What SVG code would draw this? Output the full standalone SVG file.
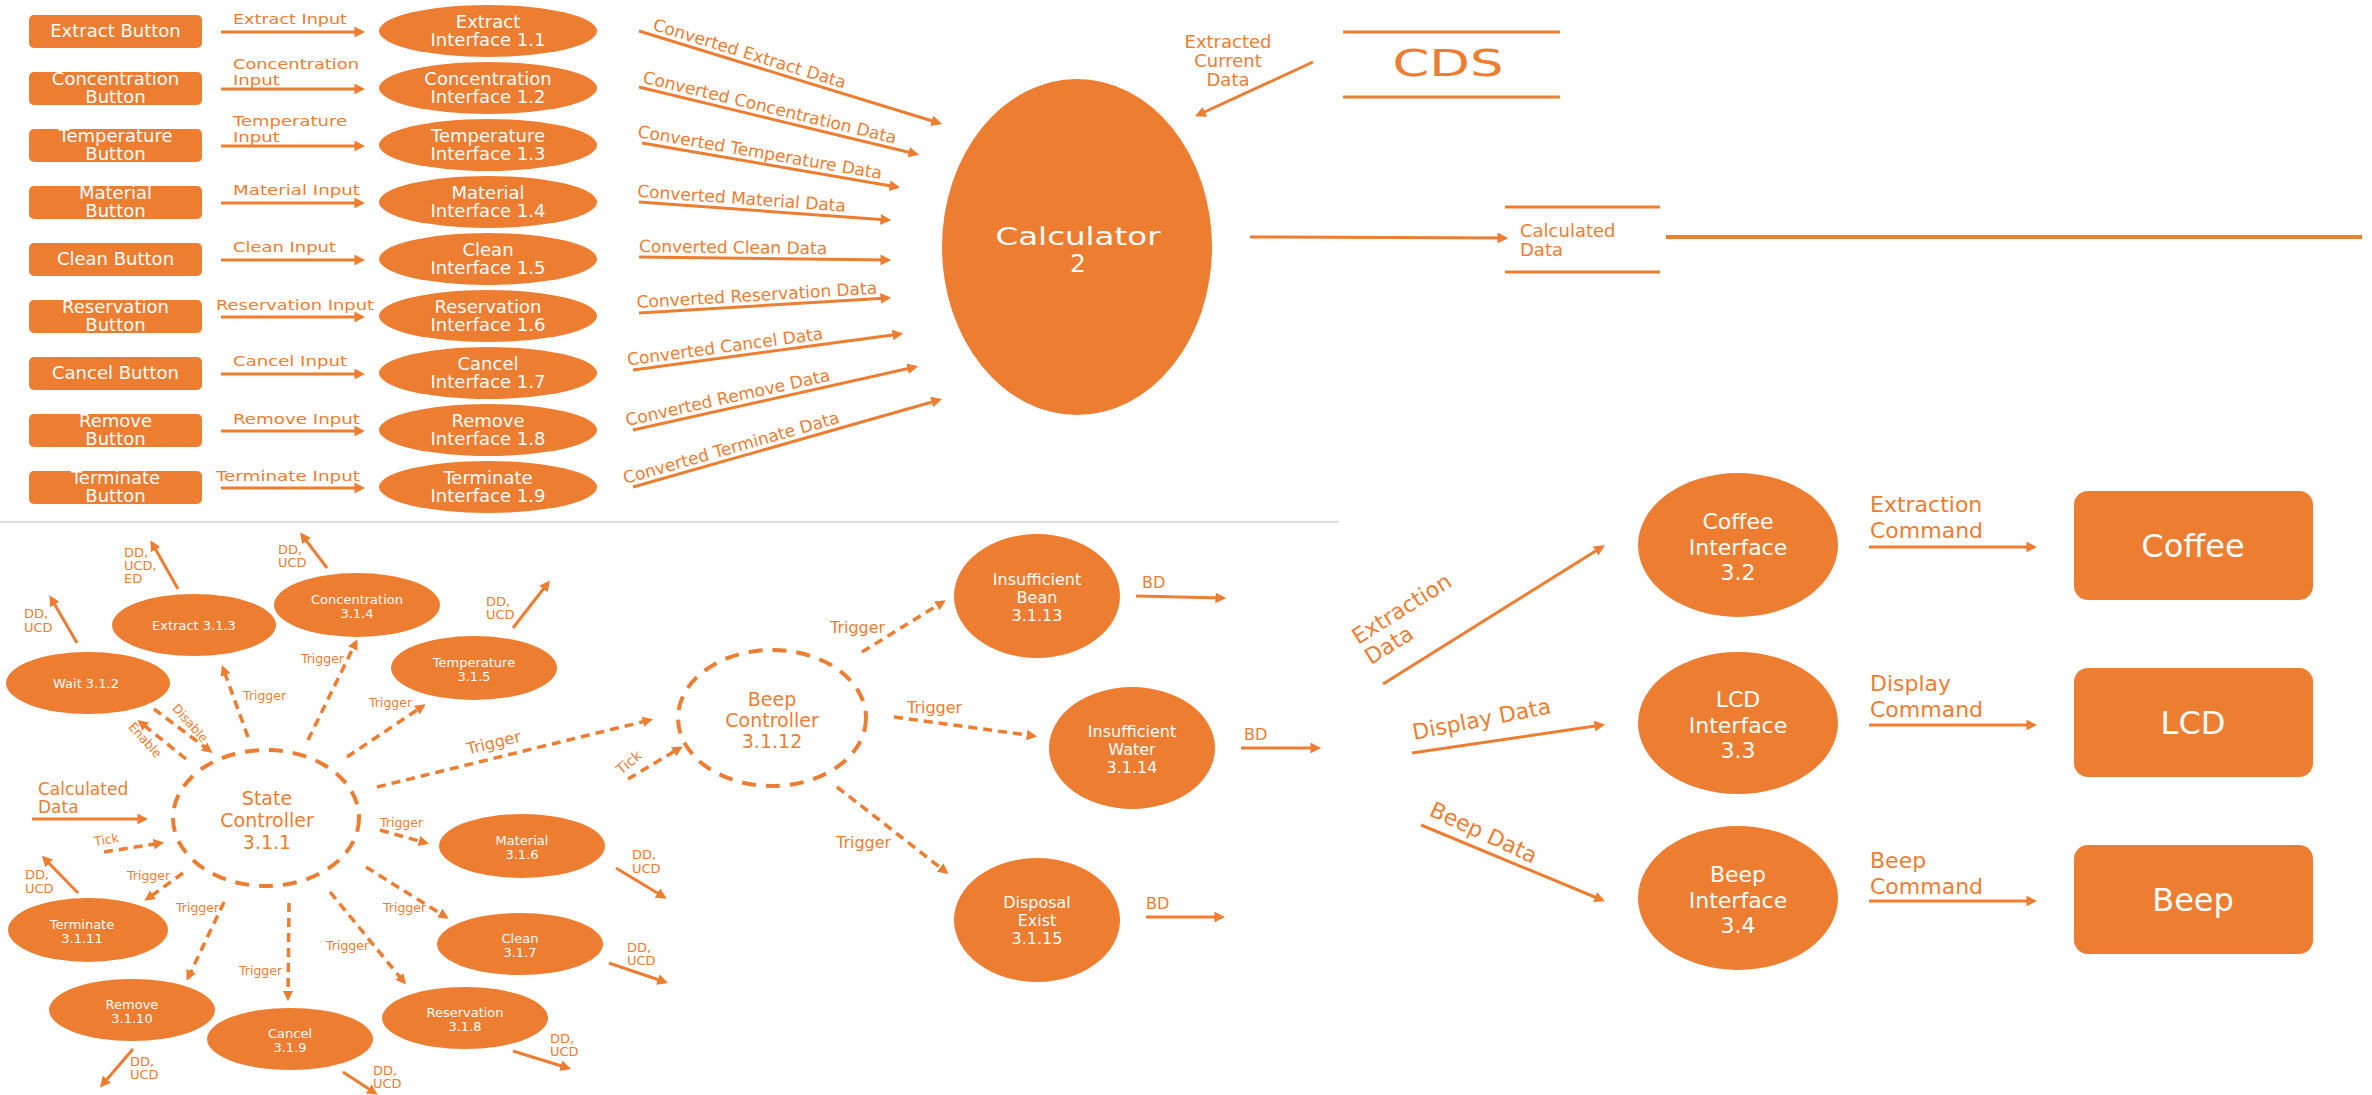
<svg xmlns="http://www.w3.org/2000/svg" width="2372" height="1095" viewBox="0 0 2372 1095">
<defs>
<marker id="ah" viewBox="0 0 10 10" refX="7" refY="5" markerWidth="3.6" markerHeight="3.6" orient="auto"><path d="M0,0 L10,5 L0,10 z" fill="#ED7D31"/></marker>
<marker id="ahd" viewBox="0 0 10 10" refX="7" refY="5" markerWidth="3" markerHeight="3" orient="auto"><path d="M0,0 L10,5 L0,10 z" fill="#ED7D31"/></marker>
<style>
.f{fill:#ED7D31}
.w{font-family:"DejaVu Sans",Verdana,sans-serif;fill:#fff;text-anchor:middle}
.o{font-family:"DejaVu Sans",Verdana,sans-serif;fill:#ED7D31}
.m{text-anchor:middle}
.e{text-anchor:end}
.s{stroke:#ED7D31;stroke-width:3;fill:none;marker-end:url(#ah)}
.d{stroke:#ED7D31;stroke-width:3.5;fill:none;stroke-dasharray:9 6;marker-end:url(#ahd)}
.dc{stroke:#ED7D31;stroke-width:4;fill:none;stroke-dasharray:14 10}
.ln{stroke:#ED7D31;stroke-width:3;fill:none}
.t18{font-size:18px}
.t17{font-size:17px}
.t14{font-size:14px}
.t13{font-size:13px}
.t12{font-size:12.5px}
.t16{font-size:16px}
.t19{font-size:19px}
.t22{font-size:22px}
</style>
</defs>
<rect width="2372" height="1095" fill="#fff"/>
<line x1="0" y1="522" x2="1339" y2="522" stroke="#DDDDDD" stroke-width="2"/>

<!-- Buttons -->
<g id="btn-extract"><rect class="f" x="29" y="15" width="173" height="33" rx="5"/><text class="w t18" x="115.5" y="37">Extract Button</text></g>
<g id="btn-concentration"><rect class="f" x="29" y="72" width="173" height="33" rx="5"/><text class="w t18" x="115.5" y="85">Concentration</text><text class="w t18" x="115.5" y="103">Button</text></g>
<g id="btn-temperature"><rect class="f" x="29" y="129" width="173" height="33" rx="5"/><text class="w t18" x="115.5" y="142">Temperature</text><text class="w t18" x="115.5" y="160">Button</text></g>
<g id="btn-material"><rect class="f" x="29" y="186" width="173" height="33" rx="5"/><text class="w t18" x="115.5" y="199">Material</text><text class="w t18" x="115.5" y="217">Button</text></g>
<g id="btn-clean"><rect class="f" x="29" y="243" width="173" height="33" rx="5"/><text class="w t18" x="115.5" y="265">Clean Button</text></g>
<g id="btn-reservation"><rect class="f" x="29" y="300" width="173" height="33" rx="5"/><text class="w t18" x="115.5" y="313">Reservation</text><text class="w t18" x="115.5" y="331">Button</text></g>
<g id="btn-cancel"><rect class="f" x="29" y="357" width="173" height="33" rx="5"/><text class="w t18" x="115.5" y="379">Cancel Button</text></g>
<g id="btn-remove"><rect class="f" x="29" y="414" width="173" height="33" rx="5"/><text class="w t18" x="115.5" y="427">Remove</text><text class="w t18" x="115.5" y="445">Button</text></g>
<g id="btn-terminate"><rect class="f" x="29" y="471" width="173" height="33" rx="5"/><text class="w t18" x="115.5" y="484">Terminate</text><text class="w t18" x="115.5" y="502">Button</text></g>

<!-- Interfaces 1.x -->
<g id="if-1-1"><ellipse class="f" cx="488" cy="31" rx="109" ry="26"/><text class="w t18" x="488" y="28">Extract</text><text class="w t18" x="488" y="46">Interface 1.1</text></g>
<g id="if-1-2"><ellipse class="f" cx="488" cy="88" rx="109" ry="26"/><text class="w t18" x="488" y="85">Concentration</text><text class="w t18" x="488" y="103">Interface 1.2</text></g>
<g id="if-1-3"><ellipse class="f" cx="488" cy="145" rx="109" ry="26"/><text class="w t18" x="488" y="142">Temperature</text><text class="w t18" x="488" y="160">Interface 1.3</text></g>
<g id="if-1-4"><ellipse class="f" cx="488" cy="202" rx="109" ry="26"/><text class="w t18" x="488" y="199">Material</text><text class="w t18" x="488" y="217">Interface 1.4</text></g>
<g id="if-1-5"><ellipse class="f" cx="488" cy="259" rx="109" ry="26"/><text class="w t18" x="488" y="256">Clean</text><text class="w t18" x="488" y="274">Interface 1.5</text></g>
<g id="if-1-6"><ellipse class="f" cx="488" cy="316" rx="109" ry="26"/><text class="w t18" x="488" y="313">Reservation</text><text class="w t18" x="488" y="331">Interface 1.6</text></g>
<g id="if-1-7"><ellipse class="f" cx="488" cy="373" rx="109" ry="26"/><text class="w t18" x="488" y="370">Cancel</text><text class="w t18" x="488" y="388">Interface 1.7</text></g>
<g id="if-1-8"><ellipse class="f" cx="488" cy="430" rx="109" ry="26"/><text class="w t18" x="488" y="427">Remove</text><text class="w t18" x="488" y="445">Interface 1.8</text></g>
<g id="if-1-9"><ellipse class="f" cx="488" cy="487" rx="109" ry="26"/><text class="w t18" x="488" y="484">Terminate</text><text class="w t18" x="488" y="502">Interface 1.9</text></g>

<!-- Calculator -->
<g id="calculator"><ellipse class="f" cx="1077" cy="247" rx="135" ry="168"/><text class="w" font-size="25" x="1078" y="245" textLength="165" lengthAdjust="spacingAndGlyphs">Calculator</text><text class="w" font-size="25" x="1078" y="272">2</text></g>

<!-- Data stores -->
<g id="cds"><line class="ln" x1="1343" y1="32" x2="1560" y2="32"/><line class="ln" x1="1343" y1="97" x2="1560" y2="97"/><text class="o m" font-size="38" x="1448" y="76" textLength="111" lengthAdjust="spacingAndGlyphs">CDS</text></g>
<g id="calculated-data"><line class="ln" x1="1505" y1="207" x2="1660" y2="207"/><line class="ln" x1="1505" y1="272" x2="1660" y2="272"/><text class="o t18" x="1520" y="237">Calculated</text><text class="o t18" x="1520" y="256">Data</text></g>

<!-- Lower left state nodes -->
<g id="wait"><ellipse class="f" cx="88" cy="683" rx="82" ry="31"/><text class="w t13" x="86" y="688">Wait 3.1.2</text></g>
<g id="extract-313"><ellipse class="f" cx="194" cy="625" rx="82" ry="31"/><text class="w t13" x="194" y="630">Extract 3.1.3</text></g>
<g id="concentration-314"><ellipse class="f" cx="357" cy="605" rx="83" ry="32"/><text class="w t13" x="357" y="604">Concentration</text><text class="w t13" x="357" y="618">3.1.4</text></g>
<g id="temperature-315"><ellipse class="f" cx="474" cy="668" rx="83" ry="32"/><text class="w t13" x="474" y="667">Temperature</text><text class="w t13" x="474" y="681">3.1.5</text></g>
<g id="material-316"><ellipse class="f" cx="522" cy="846" rx="83" ry="32"/><text class="w t13" x="522" y="845">Material</text><text class="w t13" x="522" y="859">3.1.6</text></g>
<g id="clean-317"><ellipse class="f" cx="520" cy="944" rx="83" ry="31"/><text class="w t13" x="520" y="943">Clean</text><text class="w t13" x="520" y="957">3.1.7</text></g>
<g id="reservation-318"><ellipse class="f" cx="465" cy="1018" rx="83" ry="31"/><text class="w t13" x="465" y="1017">Reservation</text><text class="w t13" x="465" y="1031">3.1.8</text></g>
<g id="cancel-319"><ellipse class="f" cx="290" cy="1039" rx="83" ry="31"/><text class="w t13" x="290" y="1038">Cancel</text><text class="w t13" x="290" y="1052">3.1.9</text></g>
<g id="remove-3110"><ellipse class="f" cx="132" cy="1010" rx="83" ry="31"/><text class="w t13" x="132" y="1009">Remove</text><text class="w t13" x="132" y="1023">3.1.10</text></g>
<g id="terminate-3111"><ellipse class="f" cx="88" cy="930" rx="80" ry="32"/><text class="w t13" x="82" y="929">Terminate</text><text class="w t13" x="82" y="943">3.1.11</text></g>

<g id="state-controller"><ellipse class="dc" cx="266" cy="818" rx="93" ry="68"/><text class="o m t19" x="267" y="805">State</text><text class="o m t19" x="267" y="827">Controller</text><text class="o m t19" x="267" y="849">3.1.1</text></g>
<g id="beep-controller"><ellipse class="dc" cx="772" cy="718" rx="94" ry="68"/><text class="o m t19" x="772" y="706">Beep</text><text class="o m t19" x="772" y="727">Controller</text><text class="o m t19" x="772" y="748">3.1.12</text></g>

<g id="insufficient-bean"><ellipse class="f" cx="1037" cy="596" rx="83" ry="62"/><text class="w t16" x="1037" y="585">Insufficient</text><text class="w t16" x="1037" y="603">Bean</text><text class="w t16" x="1037" y="621">3.1.13</text></g>
<g id="insufficient-water"><ellipse class="f" cx="1132" cy="748" rx="83" ry="61"/><text class="w t16" x="1132" y="737">Insufficient</text><text class="w t16" x="1132" y="755">Water</text><text class="w t16" x="1132" y="773">3.1.14</text></g>
<g id="disposal-exist"><ellipse class="f" cx="1037" cy="920" rx="83" ry="62"/><text class="w t16" x="1037" y="908">Disposal</text><text class="w t16" x="1037" y="926">Exist</text><text class="w t16" x="1037" y="944">3.1.15</text></g>

<!-- Right side -->
<g id="coffee-if"><ellipse class="f" cx="1738" cy="545" rx="100" ry="72"/><text class="w t22" x="1738" y="529">Coffee</text><text class="w t22" x="1738" y="555">Interface</text><text class="w t22" x="1738" y="580">3.2</text></g>
<g id="lcd-if"><ellipse class="f" cx="1738" cy="723" rx="100" ry="71"/><text class="w t22" x="1738" y="707">LCD</text><text class="w t22" x="1738" y="733">Interface</text><text class="w t22" x="1738" y="758">3.3</text></g>
<g id="beep-if"><ellipse class="f" cx="1738" cy="898" rx="100" ry="72"/><text class="w t22" x="1738" y="882">Beep</text><text class="w t22" x="1738" y="908">Interface</text><text class="w t22" x="1738" y="933">3.4</text></g>
<g id="coffee"><rect class="f" x="2074" y="491" width="239" height="109" rx="14"/><text class="w" font-size="32" x="2193" y="557">Coffee</text></g>
<g id="lcd"><rect class="f" x="2074" y="668" width="239" height="109" rx="14"/><text class="w" font-size="32" x="2193" y="734">LCD</text></g>
<g id="beep"><rect class="f" x="2074" y="845" width="239" height="109" rx="14"/><text class="w" font-size="32" x="2193" y="911">Beep</text></g>

<g id="connectors">
<!-- input arrows -->
<line class="s" x1="221" y1="32" x2="362" y2="32"/>
<line class="s" x1="221" y1="89" x2="362" y2="89"/>
<line class="s" x1="221" y1="146" x2="362" y2="146"/>
<line class="s" x1="221" y1="203" x2="362" y2="203"/>
<line class="s" x1="221" y1="260" x2="362" y2="260"/>
<line class="s" x1="221" y1="317" x2="362" y2="317"/>
<line class="s" x1="221" y1="374" x2="362" y2="374"/>
<line class="s" x1="221" y1="431" x2="362" y2="431"/>
<line class="s" x1="221" y1="488" x2="362" y2="488"/>
<text class="o t14" x="233" y="24" textLength="114" lengthAdjust="spacingAndGlyphs">Extract Input</text>
<text class="o t14" x="233" y="69" textLength="126" lengthAdjust="spacingAndGlyphs">Concentration</text><text class="o t14" x="233" y="85" textLength="47" lengthAdjust="spacingAndGlyphs">Input</text>
<text class="o t14" x="233" y="126" textLength="114" lengthAdjust="spacingAndGlyphs">Temperature</text><text class="o t14" x="233" y="142" textLength="47" lengthAdjust="spacingAndGlyphs">Input</text>
<text class="o t14" x="233" y="195" textLength="127" lengthAdjust="spacingAndGlyphs">Material Input</text>
<text class="o t14" x="233" y="252" textLength="103" lengthAdjust="spacingAndGlyphs">Clean Input</text>
<text class="o t14" x="216" y="310" textLength="158" lengthAdjust="spacingAndGlyphs">Reservation Input</text>
<text class="o t14" x="233" y="366" textLength="114" lengthAdjust="spacingAndGlyphs">Cancel Input</text>
<text class="o t14" x="233" y="424" textLength="127" lengthAdjust="spacingAndGlyphs">Remove Input</text>
<text class="o t14" x="216" y="481" textLength="144" lengthAdjust="spacingAndGlyphs">Terminate Input</text>

<!-- converted -->
<line class="s" x1="639" y1="31" x2="939" y2="123"/>
<line class="s" x1="639" y1="87" x2="916" y2="154"/>
<line class="s" x1="642" y1="143" x2="897" y2="187"/>
<line class="s" x1="639" y1="202" x2="888" y2="220"/>
<line class="s" x1="639" y1="257" x2="888" y2="260"/>
<line class="s" x1="639" y1="313" x2="888" y2="298"/>
<line class="s" x1="633" y1="370" x2="900" y2="334"/>
<line class="s" x1="633" y1="430" x2="915" y2="367"/>
<line class="s" x1="633" y1="487" x2="939" y2="400"/>
<text class="o t17" x="652" y="29.8" transform="rotate(17.05 652 29.8)">Converted Extract Data</text>
<text class="o t17" x="642" y="82.5" transform="rotate(13.6 642 82.5)">Converted Concentration Data</text>
<text class="o t17" x="637" y="137" transform="rotate(9.8 637 137)">Converted Temperature Data</text>
<text class="o t17" x="637" y="196.8" transform="rotate(4.1 637 196.8)">Converted Material Data</text>
<text class="o t17" x="639" y="252" transform="rotate(0.7 639 252)">Converted Clean Data</text>
<text class="o t17" x="637" y="308" transform="rotate(-3.4 637 308)">Converted Reservation Data</text>
<text class="o t17" x="628" y="365.6" transform="rotate(-7.7 628 365.6)">Converted Cancel Data</text>
<text class="o t17" x="627" y="426" transform="rotate(-12.6 627 426)">Converted Remove Data</text>
<text class="o t17" x="625" y="484" transform="rotate(-15.9 625 484)">Converted Terminate Data</text>

<!-- CDS / calculated -->
<line class="s" x1="1313" y1="62" x2="1198" y2="115"/>
<text class="o m t18" x="1228" y="48">Extracted</text><text class="o m t18" x="1228" y="67">Current</text><text class="o m t18" x="1228" y="86">Data</text>
<line class="s" x1="1250" y1="237" x2="1505" y2="238"/>
<line x1="1666" y1="237" x2="2362" y2="237" stroke="#ED7D31" stroke-width="4"/>

<!-- lower left outputs -->
<line class="s" x1="77" y1="643" x2="51" y2="598"/>
<text class="o t13" x="24" y="618">DD,</text><text class="o t13" x="24" y="632">UCD</text>
<line class="s" x1="178" y1="589" x2="152" y2="543"/>
<text class="o t13" x="124" y="557">DD,</text><text class="o t13" x="124" y="570">UCD,</text><text class="o t13" x="124" y="583">ED</text>
<line class="s" x1="327" y1="568" x2="302" y2="535"/>
<text class="o t13" x="278" y="554">DD,</text><text class="o t13" x="278" y="567">UCD</text>
<line class="s" x1="513" y1="628" x2="548" y2="583"/>
<text class="o t13" x="486" y="606">DD,</text><text class="o t13" x="486" y="619">UCD</text>
<line class="s" x1="616" y1="868" x2="664" y2="897"/>
<text class="o t13" x="632" y="859">DD,</text><text class="o t13" x="632" y="873">UCD</text>
<line class="s" x1="609" y1="963" x2="665" y2="982"/>
<text class="o t13" x="627" y="952">DD,</text><text class="o t13" x="627" y="965">UCD</text>
<line class="s" x1="513" y1="1051" x2="568" y2="1068"/>
<text class="o t13" x="550" y="1043">DD,</text><text class="o t13" x="550" y="1056">UCD</text>
<line class="s" x1="343" y1="1072" x2="375" y2="1093"/>
<text class="o t13" x="373" y="1075">DD,</text><text class="o t13" x="373" y="1088">UCD</text>
<line class="s" x1="133" y1="1049" x2="102" y2="1085"/>
<text class="o t13" x="130" y="1066">DD,</text><text class="o t13" x="130" y="1079">UCD</text>
<line class="s" x1="78" y1="893" x2="44" y2="858"/>
<text class="o t13" x="25" y="879">DD,</text><text class="o t13" x="25" y="893">UCD</text>

<!-- triggers from state controller -->
<line class="d" x1="248" y1="737" x2="223" y2="668"/>
<text class="o t12" x="243" y="700">Trigger</text>
<line class="d" x1="308" y1="740" x2="356" y2="642"/>
<text class="o e t12" x="344" y="663">Trigger</text>
<line class="d" x1="347" y1="757" x2="423" y2="706"/>
<text class="o t12" x="369" y="707">Trigger</text>
<line class="d" x1="377" y1="787" x2="650" y2="720"/>
<text class="o m t16" x="495" y="748" transform="rotate(-13.8 495 748)">Trigger</text>
<line class="d" x1="380" y1="830" x2="426" y2="843"/>
<text class="o t12" x="380" y="827">Trigger</text>
<line class="d" x1="366" y1="867" x2="446" y2="917"/>
<text class="o t12" x="383" y="912">Trigger</text>
<line class="d" x1="330" y1="892" x2="404" y2="982"/>
<text class="o t12" x="326" y="950">Trigger</text>
<line class="d" x1="289" y1="903" x2="288" y2="998"/>
<text class="o t12" x="239" y="975">Trigger</text>
<line class="d" x1="224" y1="902" x2="188" y2="978"/>
<text class="o t12" x="176" y="912">Trigger</text>
<line class="d" x1="183" y1="873" x2="147" y2="899"/>
<text class="o t12" x="127" y="880">Trigger</text>
<line class="d" x1="154" y1="709" x2="210" y2="751"/>
<text class="o m t12" x="187" y="726" transform="rotate(48 187 726)">Disable</text>
<line class="d" x1="186" y1="759" x2="140" y2="722"/>
<text class="o m t12" x="142" y="743" transform="rotate(48 142 743)">Enable</text>
<line class="d" x1="104" y1="852" x2="161" y2="843"/>
<text class="o t12" x="95" y="846" transform="rotate(-10 95 846)">Tick</text>
<line class="s" x1="32" y1="819" x2="145" y2="819"/>
<text class="o t17" x="38" y="795">Calculated</text><text class="o t17" x="38" y="813">Data</text>

<!-- beep controller -->
<line class="d" x1="628" y1="779" x2="680" y2="748"/>
<text class="o m" font-size="14" x="632" y="766" transform="rotate(-40 632 766)">Tick</text>
<line class="d" x1="862" y1="652" x2="943" y2="602"/>
<text class="o t16" x="830" y="633">Trigger</text>
<line class="d" x1="894" y1="717" x2="1034" y2="736"/>
<text class="o t16" x="907" y="713">Trigger</text>
<line class="d" x1="837" y1="787" x2="946" y2="872"/>
<text class="o t16" x="836" y="848">Trigger</text>
<line class="s" x1="1136" y1="596" x2="1223" y2="598"/>
<text class="o t16" x="1142" y="588">BD</text>
<line class="s" x1="1241" y1="748" x2="1318" y2="748"/>
<text class="o t16" x="1244" y="740">BD</text>
<line class="s" x1="1146" y1="917" x2="1222" y2="917"/>
<text class="o t16" x="1146" y="909">BD</text>

<!-- right -->
<line class="s" x1="1383" y1="684" x2="1602" y2="547"/>
<text class="o t22" transform="translate(1358 645) rotate(-32)"><tspan x="0" y="0">Extraction</tspan><tspan x="0" y="24">Data</tspan></text>
<line class="s" x1="1412" y1="753" x2="1602" y2="725"/>
<text class="o t22" x="1414" y="740" transform="rotate(-11 1414 740)">Display Data</text>
<line class="s" x1="1421" y1="825" x2="1602" y2="900"/>
<text class="o t22" x="1428" y="815" transform="rotate(25 1428 815)">Beep Data</text>
<line class="s" x1="1869" y1="547" x2="2034" y2="547"/>
<text class="o t22" x="1870" y="512">Extraction</text><text class="o t22" x="1870" y="538">Command</text>
<line class="s" x1="1869" y1="725" x2="2034" y2="725"/>
<text class="o t22" x="1870" y="691">Display</text><text class="o t22" x="1870" y="717">Command</text>
<line class="s" x1="1869" y1="901" x2="2034" y2="901"/>
<text class="o t22" x="1870" y="868">Beep</text><text class="o t22" x="1870" y="894">Command</text>
</g>
</svg>
